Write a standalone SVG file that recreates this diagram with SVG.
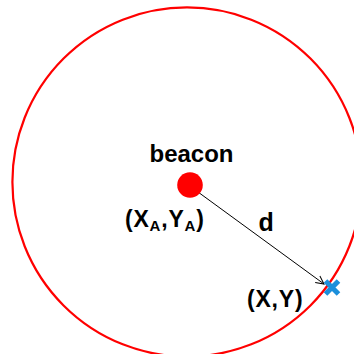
<svg xmlns="http://www.w3.org/2000/svg" width="354" height="354" viewBox="0 0 354 354">
  <defs>
    <style>
      .lbl { font-family: "Liberation Sans", Arial, sans-serif; font-weight: bold; fill: #000; }
      .coord { font-size: 23px; letter-spacing: 0.8px; }
      .sub { font-size: 15px; }
    </style>
    <marker id="arr" markerWidth="10" markerHeight="10" refX="9" refY="5" orient="auto" markerUnits="userSpaceOnUse">
      <path d="M1,1 L9,5 L1,9" fill="none" stroke="#000" stroke-width="1"/>
    </marker>
  </defs>
  <rect width="354" height="354" fill="#fff"/>
  <g id="range">
    <circle cx="187" cy="182" r="174.6" fill="none" stroke="#ff0000" stroke-width="2.2"/>
  </g>
  <g id="connectors">
    <line x1="198" y1="192" x2="324" y2="284" stroke="#000" stroke-width="1" marker-end="url(#arr)"/>
  </g>
  <g id="beacon">
    <circle cx="190" cy="185" r="12.8" fill="#ff0000"/>
    <text class="lbl" x="191.5" y="162" font-size="24" text-anchor="middle">beacon</text>
    <text class="lbl coord" x="125" y="227">(X<tspan class="sub" dy="3.5">A</tspan><tspan dy="-3.5">,Y</tspan><tspan class="sub" dy="3.5">A</tspan><tspan dy="-3.5">)</tspan></text>
  </g>
  <g id="distance">
    <text class="lbl" x="258.5" y="231" font-size="25">d</text>
  </g>
  <g id="target">
    <path d="M325.5,281 L338.5,294 M338.5,281 L325.5,294" stroke="#1C8FDB" stroke-width="5"/>
    <text class="lbl coord" x="247" y="307">(X,Y)</text>
  </g>
</svg>
